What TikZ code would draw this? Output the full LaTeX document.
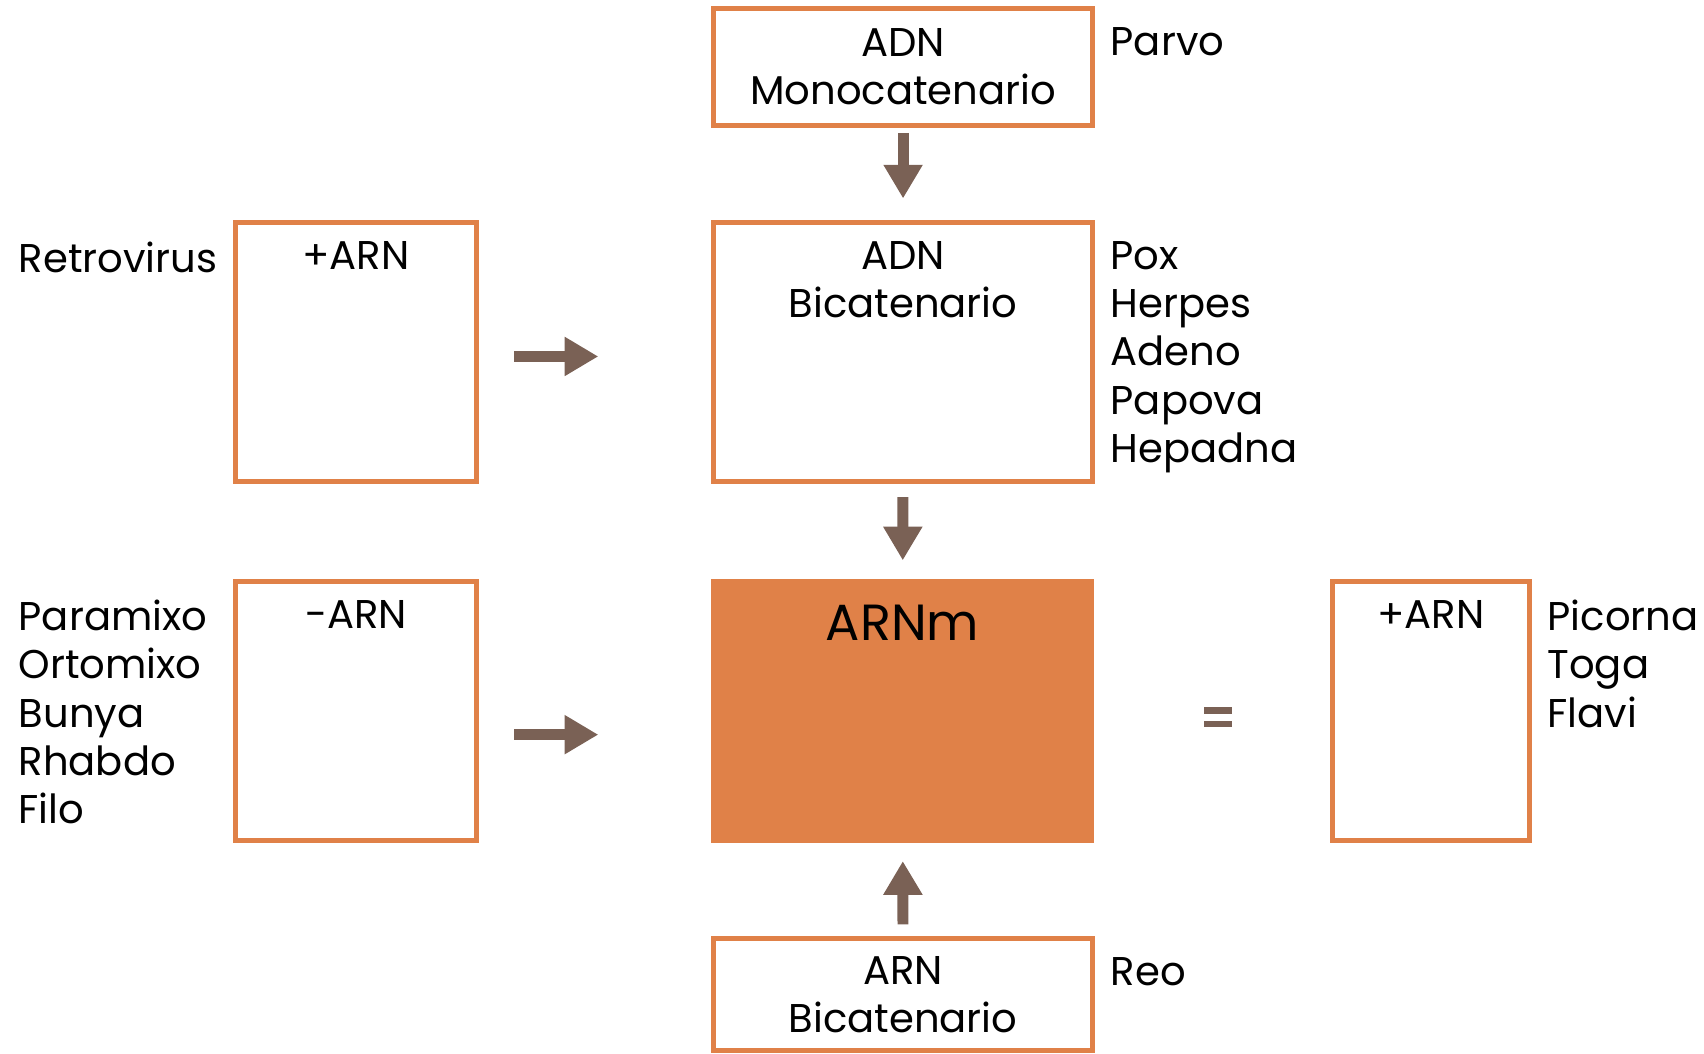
\documentclass[tikz,border=0pt]{standalone}
\usepackage{fontspec}
\setmainfont{Poppins}
\usetikzlibrary{positioning, arrows.meta}
\definecolor{boxorange}{HTML}{E08148}
\definecolor{arrowbrown}{HTML}{7A6155}

\begin{document}
\begin{tikzpicture}
        [x=0.01cm, y=-0.01cm,
         block/.style={draw=boxorange, line width=1.3pt, rectangle, inner sep=0pt,
                       align=center, font=\fontsize{10.5}{12.6}\selectfont},
         filled/.style={block, fill=boxorange},
         inbox/.style={anchor=north, inner sep=0pt, align=center, font=\fontsize{10.5}{12.6}\selectfont},
         tag/.style={anchor=north west, inner sep=0pt, align=left, font=\fontsize{10.5}{12.6}\selectfont},
         flow/.style={draw=arrowbrown, line width=0.1cm, -{Triangle[width=0.34cm, length=0.31cm]}}]
        \useasboundingbox (0,0) rectangle (1568,969);

        % centre column
        \node[block, minimum width=3.48cm, minimum height=1.07cm] (mono) at (831,61.5) {ADN\\Monocatenario};
        \node[block, minimum width=3.48cm, minimum height=2.38cm] (bica) at (831,324) {};
        \node[filled, minimum width=3.47cm, minimum height=2.38cm] (arnm) at (830.5,654) {};
        \node[block, minimum width=3.48cm, minimum height=1.03cm] (arnbi) at (831,915.5) {ARN\\Bicatenario};

        \node[inbox] (bicatxt) at ([yshift=-0.19cm]bica.north) {ADN\\Bicatenario};
        \node[inbox, font=\fontsize{13.3}{16}\selectfont] (arnmtxt) at ([yshift=-0.23cm]arnm.north) {ARNm};

        % side boxes
        \node[block, minimum width=2.21cm, minimum height=2.38cm] (pos) at (327.5,324) {};
        \node[block, minimum width=2.21cm, minimum height=2.38cm] (neg) at (327.5,654) {};
        \node[block, minimum width=1.81cm, minimum height=2.38cm] (posr) at (1316.5,654) {};

        \node[inbox] (postxt) at ([yshift=-0.19cm]pos.north) {+ARN};
        \node[inbox] (negtxt) at ([yshift=-0.19cm]neg.north) {-ARN};
        \node[inbox] (posrtxt) at ([yshift=-0.19cm]posr.north) {+ARN};

        % virus families
        \node[tag] (parvo) at ([xshift=0.14cm, yshift=-0.19cm]mono.north east) {Parvo};
        \node[tag] (pox) at ([xshift=0.14cm, yshift=-0.19cm]bica.north east) {Pox\\Herpes\\Adeno\\Papova\\Hepadna};
        \node[tag] (reo) at ([xshift=0.14cm, yshift=-0.19cm]arnbi.north east) {Reo};
        \node[tag] (retro) at ([xshift=-1.98cm, yshift=-0.19cm]pos.north west) {Retrovirus};
        \node[tag] (para) at ([xshift=-1.98cm, yshift=-0.19cm]neg.north west) {Paramixo\\Ortomixo\\Bunya\\Rhabdo\\Filo};
        \node[tag] (pico) at ([xshift=0.14cm, yshift=-0.19cm]posr.north east) {Picorna\\Toga\\Flavi};

        % arrows
        \draw[flow, shorten <=0.05cm, shorten >=0.2cm] (mono) -- (bica);
        \draw[flow, shorten <=0.12cm, shorten >=0.17cm] (bica) -- (arnm);
        \draw[flow, shorten <=0.11cm, shorten >=0.17cm] (arnbi) -- (arnm);
        \draw[flow, shorten <=0.33cm, shorten >=1.04cm] ([yshift=-0.04cm]pos.east) -- ([yshift=-0.04cm]bica.west);
        \draw[flow, shorten <=0.33cm, shorten >=1.04cm] ([yshift=-0.22cm]neg.east) -- ([yshift=-0.22cm]arnm.west);

        % equals sign
        \coordinate (eq) at (1121,660);
        \fill[arrowbrown] ([shift={(-13,-9)}]eq) rectangle ([shift={(13,-3)}]eq);
        \fill[arrowbrown] ([shift={(-13,3)}]eq) rectangle ([shift={(13,9)}]eq);
    \end{tikzpicture}
\end{document}
